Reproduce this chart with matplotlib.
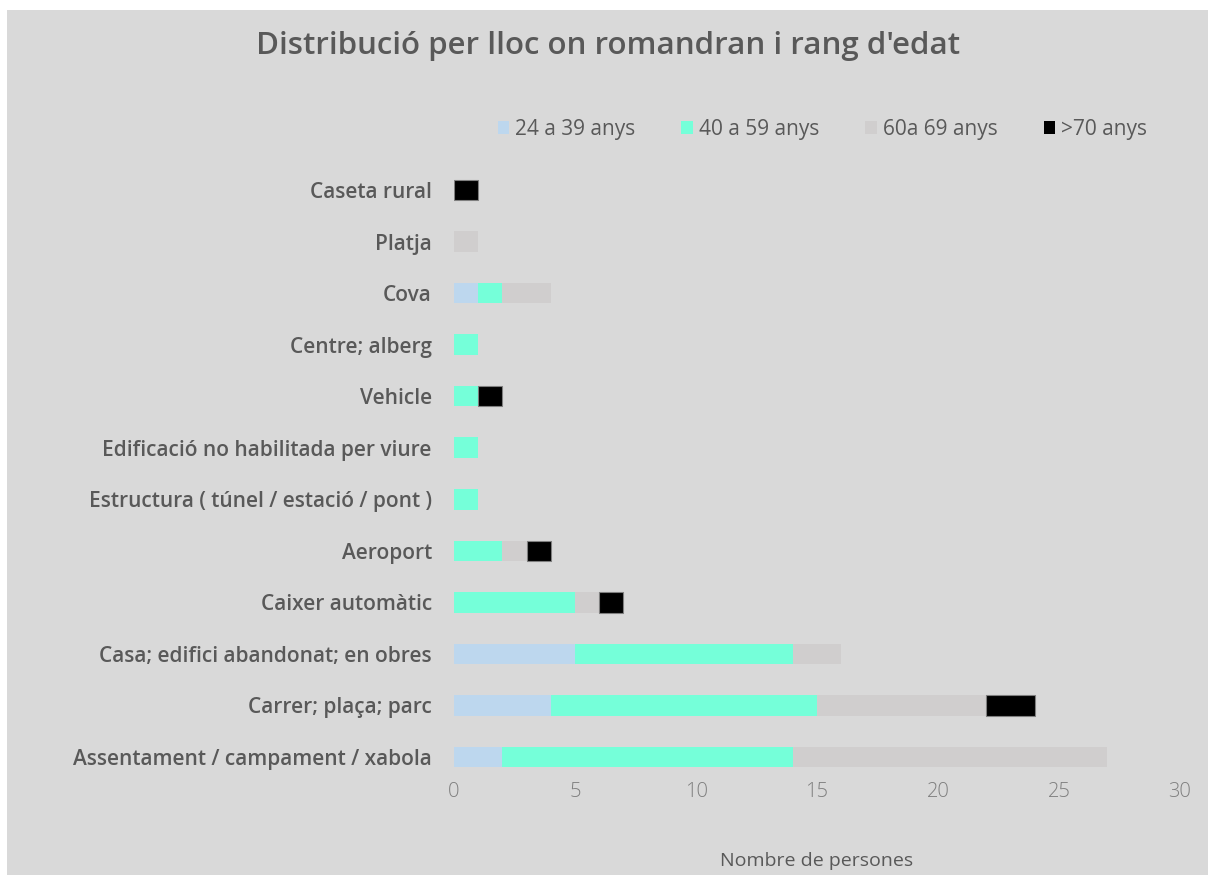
import numpy as np
import matplotlib.pyplot as plt
from matplotlib.patches import Rectangle

# Categories from bottom to top
categories = [
    "Assentament / campament / xabola",
    "Carrer; plaça; parc",
    "Casa; edifici abandonat; en obres",
    "Caixer automàtic",
    "Aeroport",
    "Estructura ( túnel / estació / pont )",
    "Edificació no habilitada per viure",
    "Vehicle",
    "Centre; alberg",
    "Cova",
    "Platja",
    "Caseta rural",
]
age_24_39 = [2, 4, 5, 0, 0, 0, 0, 0, 0, 1, 0, 0]
age_40_59 = [12, 11, 9, 5, 2, 1, 1, 1, 1, 1, 0, 0]
age_60_69 = [13, 7, 2, 1, 1, 0, 0, 0, 0, 2, 1, 0]
age_70 = [0, 2, 0, 1, 1, 0, 0, 1, 0, 0, 0, 1]
series_labels = ["24 a 39 anys", "40 a 59 anys", "60a 69 anys", ">70 anys"]
xticks = [0, 5, 10, 15, 20, 25, 30]

colors = ["#bdd7ee", "#75ffd9", "#d0cece", "#000000"]
bg = "#d9d9d9"

plt.rcParams['font.family'] = ['Open Sans', 'DejaVu Sans']

fig = plt.figure(figsize=(12.15, 8.75), dpi=100, facecolor="white")
# gray chart area with a thin white border at top/left
fig.patches.append(Rectangle((7 / 1215, 0), 1201 / 1215, 865 / 875,
                             transform=fig.transFigure, facecolor=bg,
                             edgecolor="none", zorder=-10))

ax = fig.add_axes([0.3737, 0.1113, 0.5975, 0.701])
ax.set_facecolor(bg)

y = np.arange(len(categories))
left = np.zeros(len(categories))
for vals, col, lab in zip([age_24_39, age_40_59, age_60_69, age_70], colors, series_labels):
    vals = np.array(vals, dtype=float)
    # only the black segments get a thin gray outline, and only when drawn
    ec = ["#7f7f7f" if (col == "#000000" and v > 0) else "none" for v in vals]
    ax.barh(y, vals, left=left, height=0.4, color=col, edgecolor=ec,
            linewidth=0.8, label=lab)
    left += vals

ax.set_xlim(0, 30)
ax.set_ylim(-0.4, 11.5)
ax.set_xticks(xticks)
ax.set_xticklabels([str(t) for t in xticks], fontsize=14.5, color="#7f7f7f",
                   fontweight="light")
ax.set_yticks(y)
ax.set_yticklabels(categories, fontsize=15, color="#595959", fontweight="semibold")
ax.tick_params(axis="both", length=0)
ax.tick_params(axis="x", pad=3)
ax.tick_params(axis="y", pad=16)
for s in ax.spines.values():
    s.set_visible(False)

ax.set_xlabel("Nombre de persones", fontsize=14, color="#595959", labelpad=36)

fig.text(0.5, 0.947, "Distribució per lloc on romandran i rang d'edat",
         ha="center", va="center", fontsize=22.5, color="#595959",
         fontweight="semibold")

leg = fig.legend(loc="center", bbox_to_anchor=(0.677, 0.852), ncol=4,
                 frameon=False, fontsize=15, handlelength=0.55,
                 handleheight=0.55, handletextpad=0.3, columnspacing=2.2)
for t in leg.get_texts():
    t.set_color("#595959")

plt.savefig("out.png", dpi=100, facecolor=fig.get_facecolor())
